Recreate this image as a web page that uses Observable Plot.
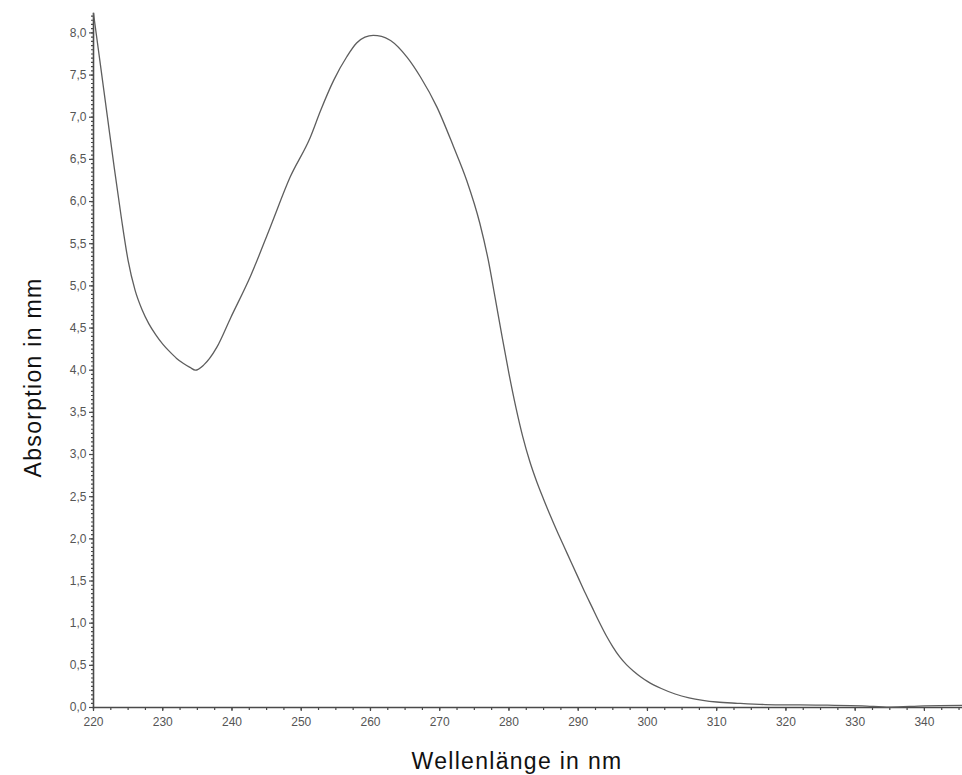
<!DOCTYPE html>
<html>
<head>
<meta charset="utf-8">
<script src="https://cdn.jsdelivr.net/npm/d3@7"></script>
<script src="https://cdn.jsdelivr.net/npm/@observablehq/plot@0.6"></script>
<style>
  html, body { margin: 0; padding: 0; background: #fff; }
  #chart svg { display: block; }
</style>
</head>
<body>
<div id="chart"></div>
<script>
// Wavelength (nm)
const wavelength = [220, 221, 222, 223, 224, 225, 226, 227, 228, 229, 230, 231, 232, 233, 234, 234.7, 235.9, 237.8, 239.8, 242.7, 245.5, 248.4, 251.3, 252.8, 254.7, 256.6, 258.0, 259.2, 260.4, 261.6, 262.9, 265.3, 267.2, 269.6, 272.0, 273.9, 275.8, 277, 278, 279, 280, 281, 282, 283, 284, 285, 286, 287, 288, 289, 290, 291, 292, 293, 294, 295, 296, 297, 298, 299, 300, 302, 304, 306, 308, 310, 313, 317, 322, 326, 331, 335, 340, 345.5];
// Absorption (mm)
const absorption = [8.23, 7.62, 7.01, 6.40, 5.82, 5.30, 4.95, 4.72, 4.55, 4.42, 4.31, 4.22, 4.14, 4.08, 4.03, 4.00, 4.06, 4.27, 4.62, 5.12, 5.69, 6.29, 6.76, 7.08, 7.44, 7.72, 7.88, 7.95, 7.97, 7.96, 7.91, 7.71, 7.48, 7.12, 6.65, 6.25, 5.74, 5.31, 4.86, 4.40, 3.96, 3.56, 3.21, 2.92, 2.68, 2.47, 2.27, 2.08, 1.90, 1.72, 1.54, 1.36, 1.19, 1.02, 0.86, 0.72, 0.60, 0.505, 0.43, 0.365, 0.31, 0.225, 0.16, 0.115, 0.085, 0.065, 0.05, 0.035, 0.03, 0.027, 0.02, 0.005, 0.02, 0.025];

const xMajorTicks = [220, 230, 240, 250, 260, 270, 280, 290, 300, 310, 320, 330, 340];
const yMajorTicks = [0, 0.5, 1, 1.5, 2, 2.5, 3, 3.5, 4, 4.5, 5, 5.5, 6, 6.5, 7, 7.5, 8];
const xTitle = "Wellenlänge in nm";
const yTitle = "Absorption in mm";

const spectrum = wavelength.map((w, i) => ({w, a: absorption[i]}));
const xMinor = d3.range(220, 345.6, 2.5);
const yMinor = d3.range(0, 8.23, 0.05);
const fmt = d => d.toFixed(1).replace(".", ",");

const axisColor = "#4a4a4a";
const labelColor = "#555";
const font = "'Liberation Sans', Arial, sans-serif";

const chart = Plot.plot({
  width: 962,
  height: 775,
  marginLeft: 93,
  marginRight: 0,
  marginTop: 13,
  marginBottom: 68,
  style: {fontFamily: font, background: "#fff"},
  x: {domain: [220, 345.5], label: null},
  y: {domain: [0, 8.23], label: null},
  marks: [
    // minor ticks
    Plot.axisX({ticks: xMinor, tickSize: 3, text: null, label: null, stroke: axisColor, strokeWidth: 1.2}),
    Plot.axisY({ticks: yMinor, tickSize: 2, text: null, label: null, stroke: axisColor, strokeWidth: 1.2}),
    // major ticks with labels
    Plot.axisX({ticks: xMajorTicks, tickSize: 4, tickPadding: 6, tickFormat: d => String(d), label: null,
      stroke: axisColor, fill: labelColor, fontSize: 12, strokeWidth: 1.2}),
    Plot.axisY({ticks: yMajorTicks, tickSize: 4, tickPadding: 3, tickFormat: fmt, label: null,
      stroke: axisColor, fill: labelColor, fontSize: 12, strokeWidth: 1.2}),
    // axis lines
    Plot.frame({anchor: "left", stroke: axisColor, strokeWidth: 1.6}),
    Plot.frame({anchor: "bottom", stroke: axisColor, strokeWidth: 1.6}),
    // spectrum
    Plot.line(spectrum, {x: "w", y: "a", stroke: "#5e5e5e", strokeWidth: 1.3, curve: "monotone-x"}),
    // titles
    Plot.text([xTitle], {frameAnchor: "bottom", textAnchor: "middle", dx: -11, dy: 61, fontSize: 23, fill: "#111",
      fontFamily: font}),
    Plot.text([yTitle], {frameAnchor: "left", textAnchor: "middle", dx: -60, dy: 17, rotate: -90, fontSize: 23, fill: "#111",
      fontFamily: font})
  ]
});
d3.select(chart).selectAll("text")
  .filter(function() { return this.textContent === xTitle || this.textContent === yTitle; })
  .attr("letter-spacing", "1.3px");
document.getElementById("chart").appendChild(chart);
</script>
</body>
</html>
